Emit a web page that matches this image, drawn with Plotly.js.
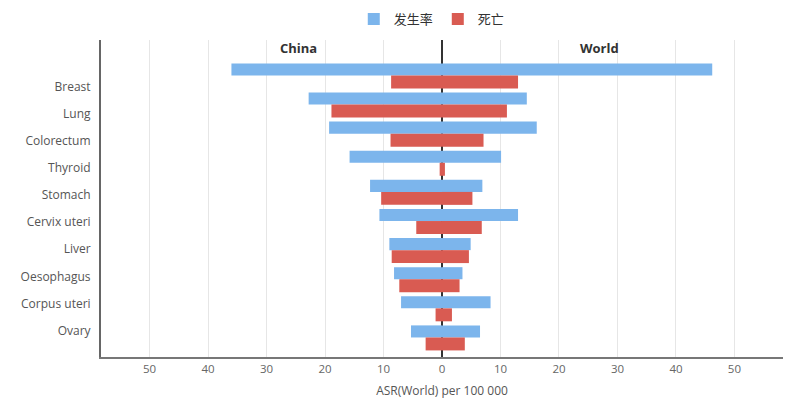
<!DOCTYPE html>
<html>
<head>
<meta charset="utf-8">
<script src="https://cdn.plot.ly/plotly-3.0.1.min.js"></script>
<style>html,body{margin:0;padding:0;background:#fff;}#chart{width:800px;height:411px;}</style>
</head>
<body>
<div id="chart"></div>
<script>
// Categories (top to bottom)
const categories = ["Breast", "Lung", "Colorectum", "Thyroid", "Stomach", "Cervix uteri", "Liver", "Oesophagus", "Corpus uteri", "Ovary"];
// ASR(World) per 100 000 — China shown to the left (negative), World to the right
const chinaIncidence = [36.0, 22.8, 19.3, 15.8, 12.3, 10.7, 9.0, 8.2, 7.0, 5.3];
const worldIncidence = [46.2, 14.5, 16.2, 10.1, 6.9, 13.0, 4.9, 3.5, 8.3, 6.5];
const chinaMortality = [8.7, 18.9, 8.8, 0.4, 10.4, 4.4, 8.6, 7.3, 1.1, 2.8];
const worldMortality = [13.0, 11.1, 7.1, 0.5, 5.2, 6.8, 4.6, 3.0, 1.7, 3.9];
const seriesNames = ["发生率", "死亡"];
const tickValues = [-50, -40, -30, -20, -10, 0, 10, 20, 30, 40, 50];
const tickLabels = ["50", "40", "30", "20", "10", "0", "10", "20", "30", "40", "50"];
const sideTitles = ["China", "World"];

const BLUE = "#7cb5ec", RED = "#d95b52";
const neg = a => a.map(v => -v);

const barBase = {type: "bar", orientation: "h", yaxis: "y2", hoverinfo: "x+y"};
const traces = [
  Object.assign({}, barBase, {name: seriesNames[0], legendgroup: "inc", x: neg(chinaIncidence), y: categories,
    marker: {color: BLUE}, offset: -0.45, width: 0.415}),
  Object.assign({}, barBase, {name: seriesNames[0], legendgroup: "inc", showlegend: false, x: worldIncidence, y: categories,
    marker: {color: BLUE}, offset: -0.45, width: 0.415}),
  Object.assign({}, barBase, {name: seriesNames[1], legendgroup: "mort", x: neg(chinaMortality), y: categories,
    marker: {color: RED}, offset: -0.035, width: 0.445}),
  Object.assign({}, barBase, {name: seriesNames[1], legendgroup: "mort", showlegend: false, x: worldMortality, y: categories,
    marker: {color: RED}, offset: -0.035, width: 0.445}),
  // invisible trace that carries the category labels on the visible y axis
  {type: "scatter", mode: "markers", x: categories.map(() => 0), y: categories, yaxis: "y",
    marker: {opacity: 0}, showlegend: false, hoverinfo: "skip"}
];

const layout = {
  width: 800, height: 411,
  margin: {l: 101, r: 17, t: 40, b: 54, autoexpand: false},
  paper_bgcolor: "#fff", plot_bgcolor: "#fff",
  font: {family: "'Open Sans', 'Noto Sans CJK SC', sans-serif", color: "#666", size: 11.5},
  barmode: "overlay",
  showlegend: true,
  legend: {orientation: "h", x: 0.485, xanchor: "center", y: 1.066, yanchor: "middle",
    font: {family: "'Noto Sans CJK SC', 'Open Sans', sans-serif", size: 13, color: "#333"},
    itemclick: false, itemdoubleclick: false},
  xaxis: {
    range: [-58.3, 58.3], tickvals: tickValues, ticktext: tickLabels,
    showgrid: true, gridcolor: "#e6e6e6", gridwidth: 1,
    zeroline: true, zerolinecolor: "#333", zerolinewidth: 1.5,
    showline: true, linecolor: "#777", linewidth: 1.5,
    ticks: "", tickfont: {size: 11.5, color: "#666"},
    title: {text: "ASR(World) per 100 000", font: {size: 12, color: "#555"}, standoff: 12},
    fixedrange: true
  },
  yaxis: {
    type: "category", categoryorder: "array", categoryarray: categories,
    range: [9.973, -1.72], showgrid: false, zeroline: false,
    showline: true, linecolor: "#666", linewidth: 2,
    ticks: "", ticklabelstandoff: 6, tickfont: {size: 12, color: "#555"},
    fixedrange: true
  },
  yaxis2: {
    type: "category", categoryorder: "array", categoryarray: categories,
    overlaying: "y", anchor: "x", range: [9.636, -1.254],
    visible: false, showgrid: false, zeroline: false, fixedrange: true
  },
  annotations: [
    {text: "<b>" + sideTitles[0] + "</b>", xref: "x", x: -24.5, yref: "paper", y: 0.976, yanchor: "middle",
      showarrow: false, font: {size: 13, color: "#333"}},
    {text: "<b>" + sideTitles[1] + "</b>", xref: "x", x: 27, yref: "paper", y: 0.976, yanchor: "middle",
      showarrow: false, font: {size: 13, color: "#333"}}
  ]
};

Plotly.newPlot("chart", traces, layout, {displayModeBar: false});
</script>
</body>
</html>
